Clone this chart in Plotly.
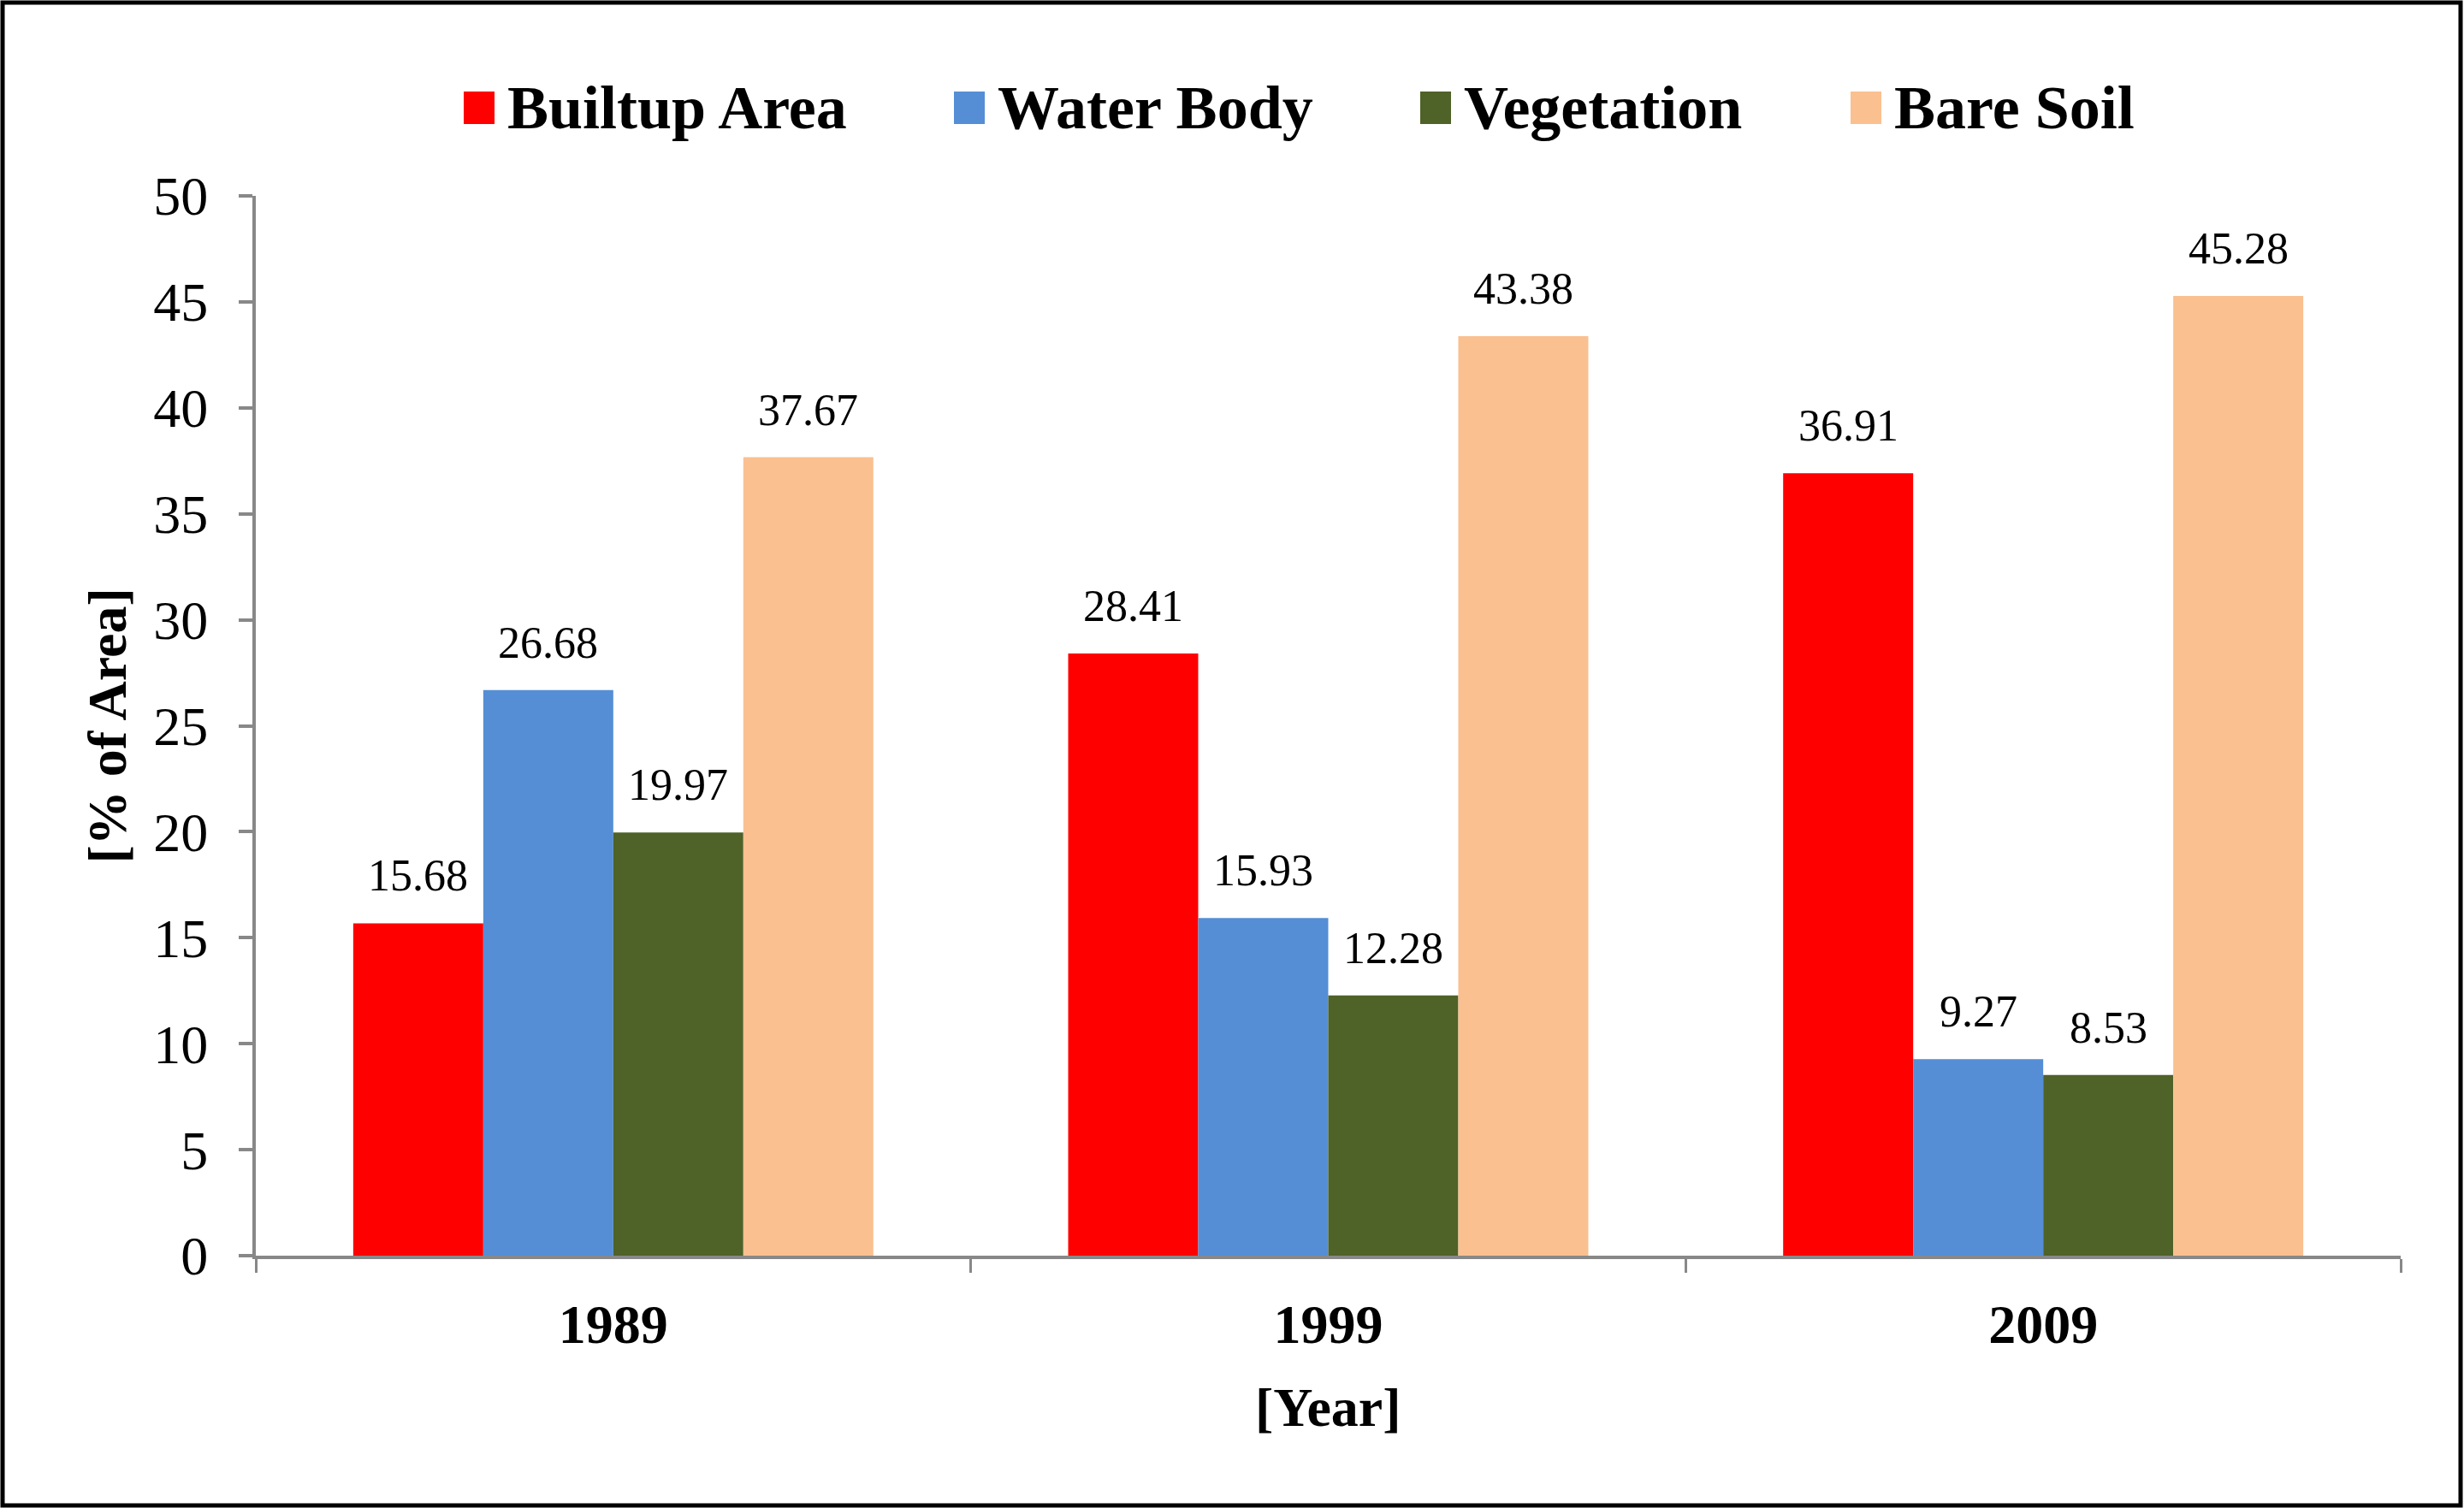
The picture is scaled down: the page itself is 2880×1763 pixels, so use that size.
import plotly.graph_objects as go

# ---------------- data ----------------
years = ["1989", "1999", "2009"]
series_names = ["Builtup Area", "Water Body", "Vegetation", "Bare Soil"]
builtup = [15.68, 28.41, 36.91]
water = [26.68, 15.93, 9.27]
vegetation = [19.97, 12.28, 8.53]
bare_soil = [37.67, 43.38, 45.28]
y_ticks = [0, 5, 10, 15, 20, 25, 30, 35, 40, 45, 50]

series_values = [builtup, water, vegetation, bare_soil]
colors = ["#FF0000", "#558ED5", "#4F6228", "#FAC090"]

# ---------------- layout geometry ----------------
W, H = 2880, 1763
L, R, T, B = 299, 2806, 229, 1468
BARGAP = 0.2725
FONT = "Liberation Serif"
AXIS_GREY = "#888888"


def xp(px):
    return (px - L) / (R - L)


def yp(py):
    return (B - py) / (B - T)


fig = go.Figure()
for name, vals, col in zip(series_names, series_values, colors):
    fig.add_trace(go.Bar(
        x=years, y=vals, name=name,
        marker=dict(color=col, line=dict(width=0)),
        showlegend=False,
    ))

annotations = []
shapes = []

# data labels above bars
bw = (1 - BARGAP) / len(series_values)
for j, vals in enumerate(series_values):
    for i, v in enumerate(vals):
        annotations.append(dict(
            x=i + (j - (len(series_values) - 1) / 2) * bw, y=v,
            xref="x", yref="y", text=f"{v:.2f}", showarrow=False,
            xanchor="center", yanchor="bottom", yshift=25,
            font=dict(family=FONT, size=52, color="black"),
        ))

# manual legend
legend_left = [542, 1115, 1660, 2163]
sq = 36
sq_top, sq_bot = 107, 145
for name, col, lx in zip(series_names, colors, legend_left):
    shapes.append(dict(
        type="rect", xref="paper", yref="paper",
        x0=xp(lx), x1=xp(lx + sq), y0=yp(sq_bot), y1=yp(sq_top),
        fillcolor=col, line=dict(width=0),
    ))
    annotations.append(dict(
        x=xp(lx + sq + 13), y=yp((sq_top + sq_bot) / 2),
        xref="paper", yref="paper", text=name, showarrow=False,
        xanchor="left", yanchor="middle",
        font=dict(family=FONT, size=72, color="black", weight="bold"),
    ))

# axis titles
annotations.append(dict(
    x=xp(125), y=0.5, xref="paper", yref="paper", text="[% of Area]",
    textangle=-90, showarrow=False, xanchor="center", yanchor="middle",
    font=dict(family=FONT, size=64, color="black", weight="bold"),
))
annotations.append(dict(
    x=0.5, y=yp(1645), xref="paper", yref="paper", text="[Year]",
    showarrow=False, xanchor="center", yanchor="middle",
    font=dict(family=FONT, size=64, color="black", weight="bold"),
))

# outer frame
shapes.append(dict(
    type="rect", xref="paper", yref="paper",
    x0=xp(3), x1=xp(2876), y0=yp(1760), y1=yp(3),
    line=dict(color="black", width=5), fillcolor="rgba(0,0,0,0)",
))

fig.update_layout(
    width=W, height=H,
    margin=dict(l=L, r=W - R, t=T, b=H - B, pad=0),
    paper_bgcolor="white", plot_bgcolor="white",
    barmode="group", bargap=BARGAP, bargroupgap=0,
    showlegend=False,
    font=dict(family=FONT, color="black"),
    annotations=annotations, shapes=shapes,
)
fig.update_xaxes(
    type="category", tickson="boundaries",
    showline=True, linecolor=AXIS_GREY, linewidth=4,
    ticks="outside", ticklen=16, tickwidth=3, tickcolor=AXIS_GREY,
    showgrid=False, zeroline=False,
    tickfont=dict(family=FONT, size=64, color="black", weight="bold"),
    ticklabelstandoff=21,
)
fig.update_yaxes(
    range=[0, 50], tickvals=y_ticks,
    showline=True, linecolor=AXIS_GREY, linewidth=4,
    ticks="outside", ticklen=16, tickwidth=4, tickcolor=AXIS_GREY,
    showgrid=False, zeroline=False,
    tickfont=dict(family=FONT, size=64, color="black"),
    ticklabelstandoff=23,
)

fig.write_html(
    "out.html",
    config={"displayModeBar": False},
    post_script="document.body.style.margin='0px';document.body.style.overflow='hidden';",
)
